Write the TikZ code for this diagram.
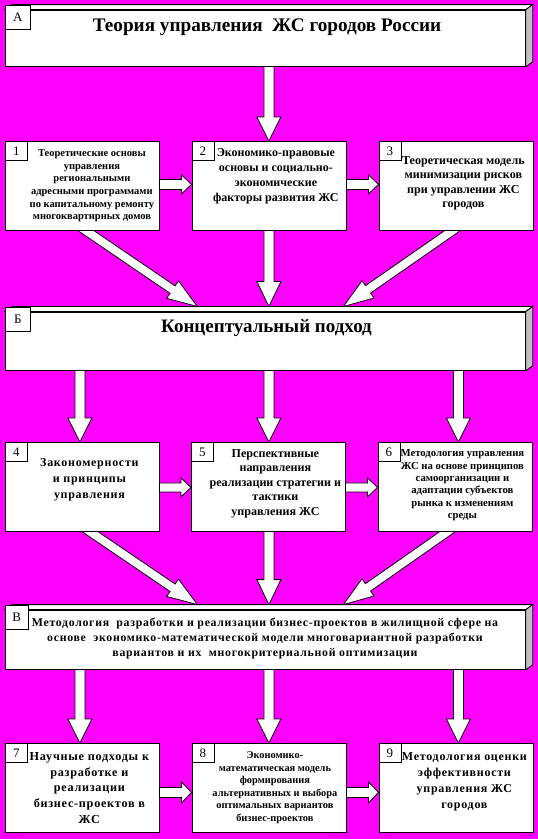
\documentclass[tikz,border=0pt]{standalone}
\usepackage{fontspec}
\setmainfont{Liberation Serif}
\usetikzlibrary{calc}
\pgfdeclarelayer{back}
\pgfdeclarelayer{arrows}
\pgfsetlayers{back,arrows,main}
\definecolor{mag}{RGB}{255,0,255}
\definecolor{side}{RGB}{192,192,192}
\tikzset{
  lw/.style={line width=0.8pt},
  box/.style={lw, draw=black, fill=white, inner sep=0pt, anchor=north west, minimum width=154pt, minimum height=89pt},
  bigface/.style={lw, draw=black, fill=white, inner sep=0pt, anchor=north west, minimum width=520pt},
  lab/.style={lw, draw=black, fill=white, inner sep=0pt, anchor=north west, minimum width=22pt, minimum height=19pt, font=\fontsize{13}{13}\selectfont},
  biglab/.style={lw, draw=black, fill=white, inner sep=0pt, anchor=north west, minimum width=25pt, minimum height=24pt, font=\fontsize{13}{13}\selectfont},
  txt/.style={align=center, inner sep=0pt},
  barrowst/.style={lw, fill=white, draw=black, line join=miter},
  topface/.style={lw, fill=white, draw=black, line join=miter},
  sideface/.style={lw, fill=side, draw=black, line join=miter}
}
\newcommand{\blockarrow}[5]{%
  \coordinate (ba-s) at (#1);
  \coordinate (ba-e) at (#2);
  \coordinate (ba-h) at ($(ba-e)!#5pt!(ba-s)$);
  \filldraw[barrowst] ($(ba-s)!#3pt!90:(ba-e)$) -- ($(ba-h)!#3pt!90:(ba-e)$) -- ($(ba-h)!#4pt!90:(ba-e)$) -- (ba-e) -- ($(ba-h)!#4pt!-90:(ba-e)$) -- ($(ba-h)!#3pt!-90:(ba-e)$) -- ($(ba-s)!#3pt!-90:(ba-e)$) -- cycle;}
\newcommand{\cubefaces}[1]{%
  \filldraw[topface] (#1.north west) -- ++(7,-5) -- ($(#1.north east)+(7,-5)$) -- (#1.north east) -- cycle;
  \filldraw[sideface] (#1.north east) -- ++(7,-5) -- ($(#1.south east)+(7,-5)$) -- (#1.south east) -- cycle;}
\begin{document}
\begin{tikzpicture}[x=1pt,y=-1pt]
\begin{pgfonlayer}{back}
  \fill[mag] (0,0) rectangle (538,839);
\end{pgfonlayer}
\useasboundingbox (0,0) rectangle (538,839);

% big boxes
\node[bigface, minimum height=56.4pt] (A) at (5,9.6) {};
\cubefaces{A}
\node[biglab] (Alab) at (5,4.6) {А};
\node[txt, font=\bfseries\fontsize{19.2}{22}\selectfont] (Atxt) at (267,27.5) {Теория управления~ ЖС городов России};

\node[bigface, minimum height=58.5pt] (B) at (5,311.5) {};
\cubefaces{B}
\node[biglab] (Blab) at (5,306.5) {Б};
\node[txt, font=\bfseries\fontsize{19}{22}\selectfont] (Btxt) at (266.5,328) {Концептуальный подход};

\node[bigface, minimum height=59.4pt] (C) at (5,609.6) {};
\cubefaces{C}
\node[biglab, minimum width=22.5pt] (Clab) at (5,604.6) {В};
\node[txt, font=\bfseries\fontsize{11.8}{15}\selectfont\addfontfeature{LetterSpace=6}] (Ctxt) at (265,639) {Методология~ разработки и реализации бизнес-проектов в жилищной сфере на\\ основе~ экономико-математической модели многовариантной разработки\\ вариантов и их~ многокритериальной оптимизации};

% row boxes
\node[box] (b1) at (5,141) {};
\node[box] (b2) at (191.5,141) {};
\node[box] (b3) at (378.5,141) {};
\node[box] (b4) at (5,442) {};
\node[box] (b5) at (191,442) {};
\node[box] (b6) at (377.5,442) {};
\node[box] (b7) at (5,743) {};
\node[box] (b8) at (191.5,743) {};
\node[box] (b9) at (378.5,743) {};

\foreach \n in {1,...,9} {\node[lab] (l\n) at (b\n.north west) {\n};}

\node[txt, font=\bfseries\fontsize{10.5}{12.6}\selectfont] (t1) at ($(b1.center)+(9.5,0)$) {Теоретические основы\\ управления\\ региональными\\ адресными программами\\ по капитальному ремонту\\ многоквартирных домов};
\node[txt, font=\bfseries\fontsize{12}{14.8}\selectfont] (t2) at ($(b2.center)+(7,-9.5)$) {Экономико-правовые\\ основы и социально-\\ экономические\\ факторы развития ЖС};
\node[txt, font=\bfseries\fontsize{12.1}{14.5}\selectfont] (t3) at ($(b3.center)+(7.5,-2.5)$) {Теоретическая модель\\ минимизации рисков\\ при управлении ЖС\\ городов};
\node[txt, font=\bfseries\fontsize{12}{16}\selectfont\addfontfeature{LetterSpace=6}] (t4) at ($(b4.center)+(7,-7.5)$) {Закономерности\\ и принципы\\ управления};
\node[txt, font=\bfseries\fontsize{12.1}{14.5}\selectfont] (t5) at ($(b5.center)+(7,-3.5)$) {Перспективные\\ направления\\ реализации стратегии и\\ тактики\\ управления ЖС};
\node[txt, font=\bfseries\fontsize{10.7}{12.4}\selectfont] (t6) at ($(b6.center)+(7.5,-1.5)$) {Методология управления\\ ЖС на основе принципов\\ самоорганизации и\\ адаптации субъектов\\ рынка к изменениям\\ среды};
\node[txt, font=\bfseries\fontsize{12.2}{15.7}\selectfont\addfontfeature{LetterSpace=6}] (t7) at ($(b7.center)+(7,0)$) {Научные подходы к\\ разработке и\\ реализации\\ бизнес-проектов в\\ ЖС};
\node[txt, font=\bfseries\fontsize{10.4}{12.5}\selectfont] (t8) at ($(b8.center)+(6,0)$) {Экономико-\\ математическая модель\\ формирования\\ альтернативных и выбора\\ оптимальных вариантов\\ бизнес-проектов};
\node[txt, font=\bfseries\fontsize{12}{16}\selectfont\addfontfeature{LetterSpace=6}] (t9) at ($(b9.center)+(8.5,-6)$) {Методология оценки\\ эффективности\\ управления ЖС\\ городов};

% arrows
\begin{pgfonlayer}{arrows}
  % A -> row 1
  \blockarrow{$(A.south -| b2.north)+(0,-4)$}{b2.north}{5}{12}{24}
  % row 1 horizontal
  \blockarrow{$(b1.east)+(-3,-1.5)$}{$(b2.west)+(0,-1.5)$}{5}{9.5}{10}
  \blockarrow{$(b2.east)+(-3,-1.5)$}{$(b3.west)+(0,-1.5)$}{5}{9.5}{10}
  % row 1 -> B
  \blockarrow{$(b1.south)+(-5,-6)$}{$(B.north)+(-68,-5)$}{4.5}{10.5}{30}
  \blockarrow{$(b2.south)+(0,-4)$}{$(B.north -| b2.south)+(0,-5)$}{5}{12}{25}
  \blockarrow{$(b3.south)+(5,-6)$}{$(B.north)+(78,-5)$}{4.5}{10.5}{30}
  % B -> row 2
  \blockarrow{$(B.south -| b4.north)+(-2.5,-4)$}{$(b4.north)+(-2.5,0)$}{5}{12}{24}
  \blockarrow{$(B.south -| b5.north)+(0.5,-4)$}{$(b5.north)+(0.5,0)$}{5}{12}{24}
  \blockarrow{$(B.south -| b6.north)+(3.5,-4)$}{$(b6.north)+(3.5,0)$}{5}{12}{24}
  % row 2 horizontal
  \blockarrow{$(b4.east)+(-3,0.5)$}{$(b5.west)+(0,0.5)$}{4.5}{9.5}{10}
  \blockarrow{$(b5.east)+(-3,0.5)$}{$(b6.west)+(0,0.5)$}{4.5}{9.5}{10}
  % row 2 -> C
  \blockarrow{$(b4.south)+(-1,-6)$}{$(C.north)+(-68,-5)$}{4.5}{10.5}{30}
  \blockarrow{$(b5.south)+(0.5,-4)$}{$(C.north -| b5.south)+(0.5,-5)$}{5}{12}{25}
  \blockarrow{$(b6.south)+(1,-6)$}{$(C.north)+(78,-5)$}{4.5}{10.5}{30}
  % C -> row 3
  \blockarrow{$(C.south -| b7.north)+(-2.5,-4)$}{$(b7.north)+(-2.5,0)$}{5}{12}{24}
  \blockarrow{$(C.south -| b8.north)+(0,-4)$}{b8.north}{5}{12}{24}
  \blockarrow{$(C.south -| b9.north)+(2.5,-4)$}{$(b9.north)+(2.5,0)$}{5}{12}{24}
  % row 3 horizontal
  \blockarrow{$(b7.east)+(-3,4.5)$}{$(b8.west)+(0,4.5)$}{5}{10.5}{10}
  \blockarrow{$(b8.east)+(-3,4.5)$}{$(b9.west)+(0,4.5)$}{5}{10.5}{10}
\end{pgfonlayer}
\end{tikzpicture}
\end{document}
